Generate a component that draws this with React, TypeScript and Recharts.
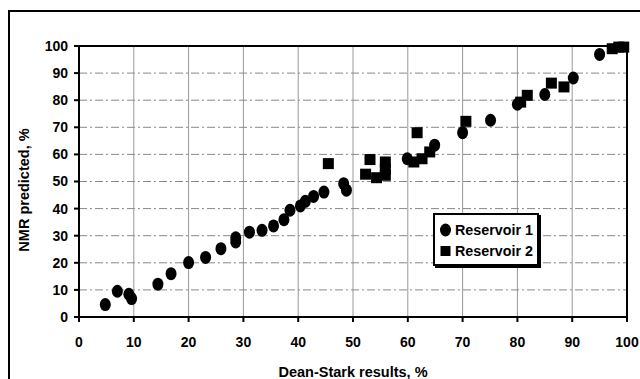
import React from 'react';
import { ScatterChart, Scatter, XAxis, YAxis, CartesianGrid, Legend, ReferenceArea, Label } from 'recharts';

const xTicks = [0, 10, 20, 30, 40, 50, 60, 70, 80, 90, 100];
const yTicks = [0, 10, 20, 30, 40, 50, 60, 70, 80, 90, 100];
const seriesNames = ['Reservoir 1', 'Reservoir 2'];

// [Dean-Stark %, NMR predicted %]
const reservoir1: [number, number][] = [
  [4.8, 4.6], [7, 9.5], [9.1, 8.4], [9.6, 6.8], [14.4, 12.1], [16.8, 16], [20, 20.1],
  [23.1, 22], [25.9, 25.2], [28.6, 27.7], [28.6, 29.2], [31.1, 31.3], [33.4, 32],
  [35.5, 33.6], [37.4, 35.9], [38.5, 39.4], [40.4, 41], [41.3, 42.7], [42.8, 44.5],
  [44.7, 46.1], [48.3, 49.2], [48.8, 46.8], [59.9, 58.4], [64.9, 63.4], [70, 68],
  [75.1, 72.6], [80, 78.5], [85, 82.1], [90.2, 88.2], [95, 96.9],
];

const reservoir2: [number, number][] = [
  [45.5, 56.6], [52.3, 52.7], [53.1, 58.1], [54.3, 51.4], [55.9, 57.2], [55.9, 52.3],
  [55.9, 54.5], [61.1, 57.2], [61.7, 68], [62.6, 58.4], [64, 60.9], [70.6, 72.2],
  [80.6, 79.3], [81.8, 81.8], [86.2, 86.3], [88.5, 84.9], [97.3, 99], [98.5, 99.6], [99.4, 99.6],
];

const toPoints = (pts: [number, number][]) => pts.map(([x, y]) => ({ x, y }));

const font = '"Liberation Sans", Arial, sans-serif';
const tickStyle = { fill: '#000', fontSize: 14, fontWeight: 700, fontFamily: font };
const titleStyle = { fontFamily: font, fontWeight: 700, fontSize: 14.5, fill: '#000' };

const Dot = (props: any) => <ellipse cx={props.cx} cy={props.cy} rx={5.5} ry={6.5} fill="#000" />;
const Square = (props: any) => (
  <rect x={props.cx - 5.5} y={props.cy - 5.5} width={11} height={11} fill="#000" />
);

const LegendBox = () => (
  <div
    style={{
      border: '2px solid #000',
      boxShadow: '2px 2px 0 #000',
      background: '#fff',
      width: 106,
      padding: '4px 0 3px 0',
      fontFamily: font,
      fontWeight: 700,
      fontSize: 14.3,
      color: '#000',
      boxSizing: 'border-box',
    }}
  >
    {seriesNames.map((name, i) => (
      <div key={name} style={{ display: 'flex', alignItems: 'center', height: 21, paddingLeft: 4 }}>
        <svg width={13} height={14} style={{ marginRight: 3 }}>
          {i === 0 ? (
            <ellipse cx={6.5} cy={7} rx={5.5} ry={6.5} fill="#000" />
          ) : (
            <rect x={1.5} y={2} width={10} height={10} fill="#000" />
          )}
        </svg>
        <span>{name}</span>
      </div>
    ))}
  </div>
);

const YLabel = () => (
  <text
    x={24}
    y={190}
    transform="rotate(-90, 24, 190)"
    textAnchor="middle"
    dominantBaseline="central"
    style={titleStyle}
  >
    NMR predicted, %
  </text>
);

export default function App() {
  return (
    <div style={{ position: 'relative', width: 640, height: 379, overflow: 'hidden', background: '#fff' }}>
      <style>{'html,body{margin:0;overflow:hidden;}'}</style>
      <div
        style={{
          position: 'absolute',
          left: 8,
          top: 10,
          width: 700,
          height: 400,
          borderLeft: '2px solid #000',
          borderTop: '2px solid #000',
        }}
      />
      <div style={{ position: 'absolute', left: 0, top: 0 }}>
        <ScatterChart width={640} height={379} margin={{ top: 46, right: 13, left: 0, bottom: 0 }}>
          <CartesianGrid horizontal={false} stroke="#999" strokeWidth={1} />
          <CartesianGrid vertical={false} stroke="#888" strokeDasharray="8 3 2 3" strokeWidth={1} />
          <XAxis
            type="number"
            dataKey="x"
            domain={[0, 100]}
            ticks={xTicks}
            height={62}
            tick={tickStyle}
            tickSize={5}
            tickMargin={15}
            axisLine={{ stroke: '#000', strokeWidth: 2 }}
            tickLine={{ stroke: '#000', strokeWidth: 2 }}
          >
            <Label value="Dean-Stark results, %" position="insideBottom" offset={2} style={titleStyle} />
          </XAxis>
          <YAxis
            type="number"
            dataKey="y"
            domain={[0, 100]}
            ticks={yTicks}
            width={79}
            tick={tickStyle}
            tickSize={5}
            tickMargin={6}
            axisLine={{ stroke: '#000', strokeWidth: 2 }}
            tickLine={{ stroke: '#000', strokeWidth: 2 }}
            label={{ content: () => <YLabel /> }}
          />
          <ReferenceArea
            x1={0}
            x2={100}
            y1={0}
            y2={100}
            fill="none"
            fillOpacity={0}
            stroke="#000"
            strokeWidth={2}
            ifOverflow="visible"
          />
          <Scatter name={seriesNames[0]} data={toPoints(reservoir1)} shape={Dot} isAnimationActive={false} />
          <Scatter name={seriesNames[1]} data={toPoints(reservoir2)} shape={Square} isAnimationActive={false} />
          <Legend
            layout="vertical"
            align="center"
            verticalAlign="middle"
            content={() => <LegendBox />}
            wrapperStyle={{ left: 433, top: 213, width: 'auto', right: 'auto', bottom: 'auto' }}
          />
        </ScatterChart>
      </div>
    </div>
  );
}
